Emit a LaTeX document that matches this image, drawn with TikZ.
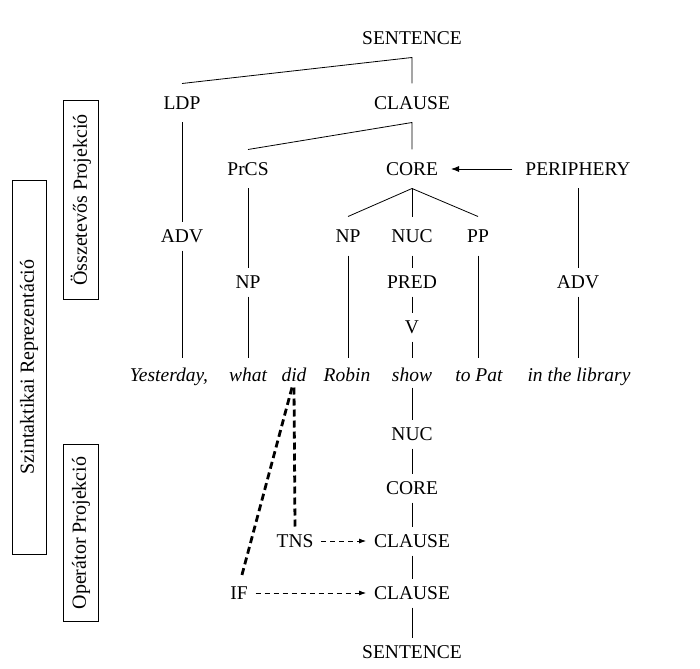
\documentclass[tikz,border=0pt]{standalone}
\usepackage{fontspec}
\setmainfont{Liberation Serif}
\usetikzlibrary{arrows.meta,calc}
\begin{document}
\begin{tikzpicture}[x=1pt,y=-1pt,
  tn/.style={inner sep=0pt, text height=13pt, text depth=0pt, outer sep=8pt, font=\fontsize{19.5}{23}\selectfont},
  tt/.style={tn, outer sep=13pt},
  wd/.style={tn, outer sep=6pt, font=\fontsize{19.5}{23}\selectfont\itshape},
  br/.style={line width=0.8pt},
  towd/.style={br, shorten >=4.5pt},
  opdash/.style={line width=0.8pt, dash pattern=on 5pt off 4pt, -{Latex[length=7pt,width=5pt]}},
  thickdash/.style={line width=2.8pt, dash pattern=on 7pt off 4pt},
  lbl/.style={draw, line width=0.8pt, rotate=90, inner sep=0pt, font=\fontsize{20}{24}\selectfont}
]
\useasboundingbox (0,0) rectangle (700,668);

% side labels
\node[lbl, minimum width=374pt, minimum height=34pt] (big) at (29,367) {Szintaktikai Reprezentáció};
\node[lbl, minimum width=199pt, minimum height=35pt] (osszl) at (81,200) {Összetevős Projekció};
\node[lbl, minimum width=177pt, minimum height=35pt] (opl) at (81,533) {Operátor Projekció};

% constituent projection
\node[tt] (S1) at (412,38) {SENTENCE};
\node[tt] (LDP) at (182,103) {LDP};
\node[tt] (CL1) at (412,103) {CLAUSE};
\node[tt] (PrCS) at (248,169) {PrCS};
\node[tt] (CORE) at (412,169) {CORE};
\node[tt] (PER) at (578,169) {PERIPHERY};
\node[tn] (ADV1) at (182,236) {ADV};
\node[tn] (NP1) at (248,282) {NP};
\node[tt] (NP2) at (348,236) {NP};
\node[tt] (NUC1) at (412,236) {NUC};
\node[tt] (PP) at (478,236) {PP};
\node[tn] (PRED) at (412,282) {PRED};
\node[tn] (V) at (412,327) {V};
\node[tn] (ADV2) at (578,282) {ADV};

% words
\node[wd] (yest) at (169,375) {Yesterday,};
\node[wd] (what) at (248,375) {what};
\node[wd] (did) at (294,375) {did};
\node[wd] (robin) at (347,375) {Robin};
\node[wd] (show) at (412,375) {show};
\node[wd] (topat) at (479,375) {to Pat};
\node[wd] (lib) at (579,375) {in the library};

% operator projection
\node[tn] (NUC2) at (412,434) {NUC};
\node[tn] (CORE2) at (412,488) {CORE};
\node[tn] (CL2) at (412,541) {CLAUSE};
\node[tn] (CL3) at (412,593) {CLAUSE};
\node[tn] (S2) at (412,652) {SENTENCE};
\node[tn] (TNS) at (295,541) {TNS};
\node[tn] (IF) at (239,593) {IF};

% constituent edges
\draw[br] (LDP.north) -- (S1.south) -- (CL1.north);
\draw[br] (PrCS.north) -- (CL1.south) -- (CORE.north);
\draw[br] (NP2.north) -- (CORE.south) -- (PP.north);
\draw[br] (CORE.south) -- (NUC1.north);
\draw[br] (LDP.south) -- (ADV1.north);
\draw[towd] (ADV1.south) -- (ADV1.south |- yest.north);
\draw[br] (PrCS.south) -- (NP1.north);
\draw[towd] (NP1.south) -- (what.north);
\draw[towd] (NP2.south) -- (NP2.south |- robin.north);
\draw[br] (NUC1.south) -- (PRED.north);
\draw[br] (PRED.south) -- (V.north);
\draw[towd] (V.south) -- (show.north);
\draw[towd] (PP.south) -- (PP.south |- topat.north);
\draw[br] (PER.south) -- (ADV2.north);
\draw[towd] (ADV2.south) -- (ADV2.south |- lib.north);
\draw[br, -{Latex[length=8pt,width=6pt]}] (PER.west) -- (CORE.east);

% operator edges
\draw[br] (show.south) -- (NUC2.north);
\draw[br] (NUC2.south) -- (CORE2.north);
\draw[br] (CORE2.south) -- (CL2.north);
\draw[br] (CL2.south) -- (CL3.north);
\draw[br] (CL3.south) -- (S2.north);
\draw[opdash] (TNS.east) -- (CL2.west);
\draw[opdash] (IF.east) -- (CL3.west);
\draw[thickdash] (did.south) -- (TNS.north);
\draw[thickdash] ($(did.south)+(-2,0)$) -- ($(IF.north)+(2,0)$);
\end{tikzpicture}
\end{document}
